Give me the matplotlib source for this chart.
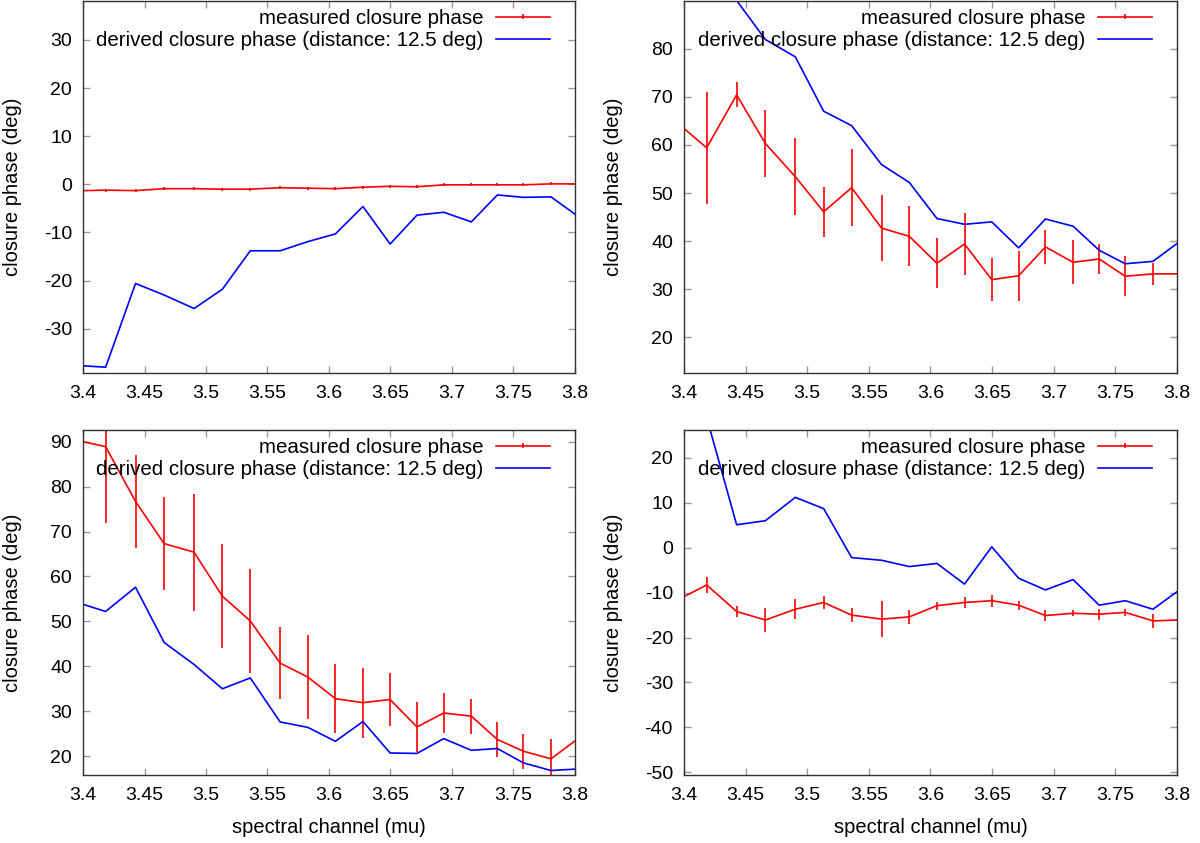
import numpy as np
import matplotlib
matplotlib.use('Agg')
import matplotlib.pyplot as plt
from matplotlib.legend_handler import HandlerErrorbar

plt.rcParams['font.family'] = ['Liberation Sans', 'DejaVu Sans']
plt.rcParams['font.size'] = 14.5
plt.rcParams['axes.unicode_minus'] = False

# spectral channels (mu)
wave = [3.400, 3.4184, 3.4427, 3.466, 3.4903, 3.5133, 3.536, 3.5603, 3.5828, 3.6052,
        3.6276, 3.6497, 3.6715, 3.6933, 3.7157, 3.7369, 3.758, 3.7805, 3.800]

# panel 1
meas1 = [-1.3, -1.2, -1.3, -0.9, -0.9, -1.0, -1.0, -0.7, -0.8, -0.9,
         -0.6, -0.4, -0.5, -0.1, -0.1, -0.1, -0.1, 0.1, 0.1]
err1 = [0, 0.3, 0.3, 0.3, 0.3, 0.3, 0.3, 0.3, 0.3, 0.3,
        0.3, 0.3, 0.3, 0.3, 0.3, 0.3, 0.3, 0.3, 0]
deriv1 = [-37.7, -38.0, -20.6, -23.0, -25.8, -21.8, -13.8, -13.8, -11.9, -10.3,
          -4.6, -12.4, -6.4, -5.8, -7.8, -2.2, -2.7, -2.6, -6.2]

# panel 2
meas2 = [63.4, 59.4, 70.4, 60.3, 53.4, 46.1, 51.1, 42.7, 41.0, 35.4,
         39.4, 32.0, 32.8, 38.8, 35.6, 36.3, 32.7, 33.2, 33.2]
err2 = [0, 11.6, 2.6, 7.0, 8.0, 5.2, 8.0, 6.8, 6.2, 5.2,
        6.4, 4.5, 5.2, 3.5, 4.6, 3.1, 4.2, 2.3, 0]
deriv2 = [102.0, 98.0, 90.0, 81.9, 78.3, 67.0, 64.0, 55.9, 52.2, 44.7,
          43.5, 44.0, 38.6, 44.6, 43.1, 38.1, 35.3, 35.8, 39.5]

# panel 3
meas3 = [90.0, 88.9, 76.7, 67.3, 65.4, 55.6, 50.1, 40.7, 37.6, 32.8,
         31.9, 32.6, 26.5, 29.6, 28.9, 23.7, 21.1, 19.4, 23.4]
err3 = [0, 16.9, 10.4, 10.3, 13.0, 11.6, 11.6, 8.0, 9.4, 7.7,
        7.8, 6.0, 5.5, 4.4, 3.9, 3.8, 3.9, 4.4, 0]
deriv3 = [53.8, 52.2, 57.6, 45.3, 40.4, 35.0, 37.4, 27.6, 26.4, 23.3,
          27.7, 20.7, 20.6, 23.9, 21.3, 21.7, 18.5, 16.8, 17.1]

# panel 4
meas4 = [-10.9, -8.3, -14.2, -16.1, -13.7, -12.2, -15.0, -15.9, -15.4, -12.9,
         -12.2, -11.8, -12.8, -15.1, -14.6, -14.8, -14.4, -16.3, -16.1]
err4 = [0, 1.7, 1.2, 2.6, 2.2, 1.4, 1.5, 4.0, 1.6, 0.9,
        1.2, 1.3, 1.0, 1.2, 0.7, 1.2, 0.8, 1.6, 0]
deriv4 = [35.0, 29.0, 5.1, 6.0, 11.2, 8.7, -2.2, -2.8, -4.2, -3.5,
          -8.1, 0.2, -6.8, -9.4, -7.1, -12.8, -11.8, -13.7, -9.8]

panels = [
    (meas1, err1, deriv1, (-39.2, 38.1), np.arange(-30, 31, 10)),
    (meas2, err2, deriv2, (12.6, 89.9), np.arange(20, 81, 10)),
    (meas3, err3, deriv3, (15.8, 92.6), np.arange(20, 91, 10)),
    (meas4, err4, deriv4, (-50.6, 26.2), np.arange(-50, 21, 10)),
]

W, H = 1200, 843
fig = plt.figure(figsize=(W / 100, H / 100), dpi=100)

# axes boxes in pixels: left, top, right, bottom
boxes = [(83, 1, 575, 373), (684, 1, 1177, 373),
         (83, 430, 575, 775), (684, 430, 1177, 775)]

for i, (meas, err, deriv, ylim, yt) in enumerate(panels):
    l, t, r, b = boxes[i]
    ax = fig.add_axes([l / W, 1 - b / H, (r - l) / W, (b - t) / H])
    eb = ax.errorbar(wave, meas, yerr=err, color='red', lw=1.2, elinewidth=1.2,
                     capsize=0, label='measured closure phase')
    ln, = ax.plot(wave, deriv, color='blue', lw=1.2,
                  label='derived closure phase (distance: 12.5 deg)')
    ax.set_xlim(3.4, 3.8)
    ax.set_ylim(*ylim)
    ax.set_xticks(np.arange(3.4, 3.81, 0.05))
    ax.set_xticklabels(['3.4', '3.45', '3.5', '3.55', '3.6', '3.65', '3.7', '3.75', '3.8'])
    ax.set_yticks(yt)
    ax.tick_params(direction='in', top=True, right=True, length=5, width=1,
                   color='#999999', labelsize=14)
    ax.tick_params(axis='x', pad=9)
    ax.tick_params(axis='y', pad=8)
    for sp in ax.spines.values():
        sp.set_color('#333333')
        sp.set_linewidth(1)
    ax.set_ylabel('closure phase (deg)', fontsize=14.5)
    ax.yaxis.set_label_coords(-0.143, 0.5)
    ax.yaxis.label.set_va('center')
    if i >= 2:
        ax.set_xlabel('spectral channel (mu)', fontsize=14.5)
        ax.xaxis.set_label_coords(0.5, -0.151)
        ax.xaxis.label.set_va('center')
    # legend: right end of sample line ~25 px inside the frame, first row ~16 px below top
    ax_w, ax_h = r - l, b - t
    ax.legend(handles=[eb, ln], loc='upper right', frameon=False, markerfirst=False,
              fontsize=14.8, handlelength=2.65, handletextpad=0.6, labelspacing=0.15,
              borderaxespad=0, borderpad=0,
              bbox_to_anchor=(1 - 25 / ax_w, 1 - 8 / ax_h),
              handler_map={eb: HandlerErrorbar(xerr_size=0.1, yerr_size=0.12)})

fig.savefig('out.png', dpi=100)
